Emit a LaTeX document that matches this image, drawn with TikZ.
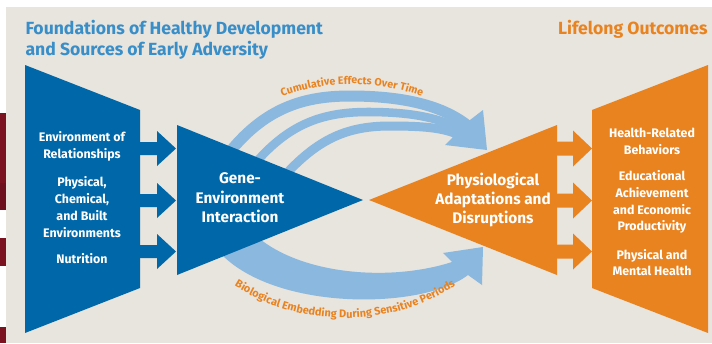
\documentclass[tikz,border=0pt]{standalone}
\usepackage{fontspec}
\setmainfont{Fira Sans}
\usetikzlibrary{decorations.text}

\definecolor{dkblue}{RGB}{0,104,168}
\definecolor{ttlblue}{RGB}{56,142,200}
\definecolor{orng}{RGB}{232,131,32}
\definecolor{ltblue}{RGB}{138,184,223}
\definecolor{bgc}{RGB}{232,228,222}
\definecolor{dkred}{RGB}{122,18,32}

\tikzset{every picture/.style={line width=0.75pt}}
\tikzset{
  boxtext/.style={text=white, font=\bfseries\fontsize{9.3}{12.6}\selectfont, align=center, inner sep=0.75pt},
  tritext/.style={text=white, font=\bfseries\fontsize{11.5}{14.6}\selectfont, align=center, inner sep=0.75pt},
  bandline/.style={draw=ltblue, line cap=butt},
}

\begin{document}
\begin{tikzpicture}[x=0.75pt,y=0.75pt,yscale=-1,xscale=1]
        \useasboundingbox (0,0) rectangle (712,343);

        %Shape: Rectangle [background]
        \fill [bgc] (6,7) rectangle (712,343);
        %Shape: Rectangle [left edge]
        \fill [dkred] (0,113) rectangle (6,183);
        \fill [dkred!90!black] (0,183) rectangle (6,210);
        \fill [dkred] (0,238) rectangle (6,266);
        \fill [dkred] (0,327) rectangle (6,343);

        %Curve Lines [top bands]
        \draw [bandline, line width=8.25pt] (222,162) .. controls (260,110) and (300,96) .. (350,96) .. controls (410,96) and (445,108) .. (467,125);
        \draw [bandline, line width=6.4pt] (248,172) .. controls (285,125) and (320,112) .. (368,112) .. controls (415,112) and (442,119) .. (462,130);
        \draw [bandline, line width=6.75pt] (278,183) .. controls (315,140) and (345,126) .. (390,126) .. controls (425,126) and (442,128) .. (457,134);
        %Shape: Polygon [top head]
        \fill [ltblue] (470,120) -- (483,110) -- (487,150) -- (445,145) -- (452,138) -- (458,131) -- cycle;

        %Shape: Polygon [bottom band]
        \fill [ltblue] (255,235) .. controls (300,275) and (390,282) .. (452,262) -- (443,253) -- (483,247) -- (482,285) -- (468,275) .. controls (420,312) and (255,312) .. (210,240) -- cycle;

        %Shape: Triangle [gene]
        \fill [dkblue] (177,125) -- (363,200) -- (177,275) -- cycle;
        %Shape: Triangle [physio]
        \fill [orng] (557,125) -- (369,200) -- (557,275) -- cycle;
        %Shape: Trapezoid [foundations]
        \fill [dkblue] (25,65) -- (140,110) -- (140,288) -- (25,333) -- cycle;
        %Shape: Trapezoid [outcomes]
        \fill [orng] (592,110) -- (708,65) -- (708,333) -- (592,288) -- cycle;

        %Shape: Right Arrows
        \foreach \y in {148.5,200.5,251.5} {
          \fill [dkblue] (139,\y-6.5) -- (157,\y-6.5) -- (157,\y-17.5) -- (176,\y) -- (157,\y+17.5) -- (157,\y+6.5) -- (139,\y+6.5) -- cycle;
          \fill [orng] (556,\y-7) -- (573,\y-7) -- (573,\y-18) -- (592,\y) -- (573,\y+18) -- (573,\y+7) -- (556,\y+7) -- cycle;
        }

        % Text Path
        \path [decorate, decoration={text along path, text align=center,
          text={|\color{orng}\bfseries\fontsize{8}{9}\selectfont|Cumulative Effects Over Time}}]
          (352,284) ++(-122:200) arc [start angle=-122, end angle=-58, radius=200];
        % Text Path
        \path [decorate, decoration={text along path, text align=center,
          text={|\color{orng}\bfseries\fontsize{8.2}{9}\selectfont|Biological Embedding During Sensitive Periods}}]
          (345,112) ++(128:206) arc [start angle=128, end angle=52, radius=206];

        % Text Node
        \draw (25,55) node (ttl) [anchor=base west, inner sep=0pt, align=left, text=ttlblue, font=\bfseries\fontsize{13.2}{15.5}\selectfont] {Foundations of Healthy Development\\and Sources of Early Adversity};
        % Text Node
        \draw (708,34.3) node (life) [anchor=base east, inner sep=0pt, text=orng, font=\bfseries\fontsize{13.2}{15.5}\selectfont] {Lifelong Outcomes};

        % Text Node
        \draw (82,146.5) node (rel) [boxtext] {Environment of\\Relationships};
        % Text Node
        \draw (82,207) node (phys) [boxtext] {Physical,\\Chemical,\\and Built\\Environments};
        % Text Node
        \draw (82,259) node (nutr) [boxtext] {Nutrition};
        % Text Node
        \draw (240,198) node (gene) [tritext] {Gene-\\Environment\\Interaction};
        % Text Node
        \draw (493,200) node (adapt) [tritext] {Physiological\\Adaptations and\\Disruptions};
        % Text Node
        \draw (652,141) node (behav) [boxtext] {Health-Related\\Behaviors};
        % Text Node
        \draw (652,202) node (educ) [boxtext] {Educational\\Achievement\\and Economic\\Productivity};
        % Text Node
        \draw (652,262.5) node (mental) [boxtext] {Physical and\\Mental Health};

\end{tikzpicture}
\end{document}
